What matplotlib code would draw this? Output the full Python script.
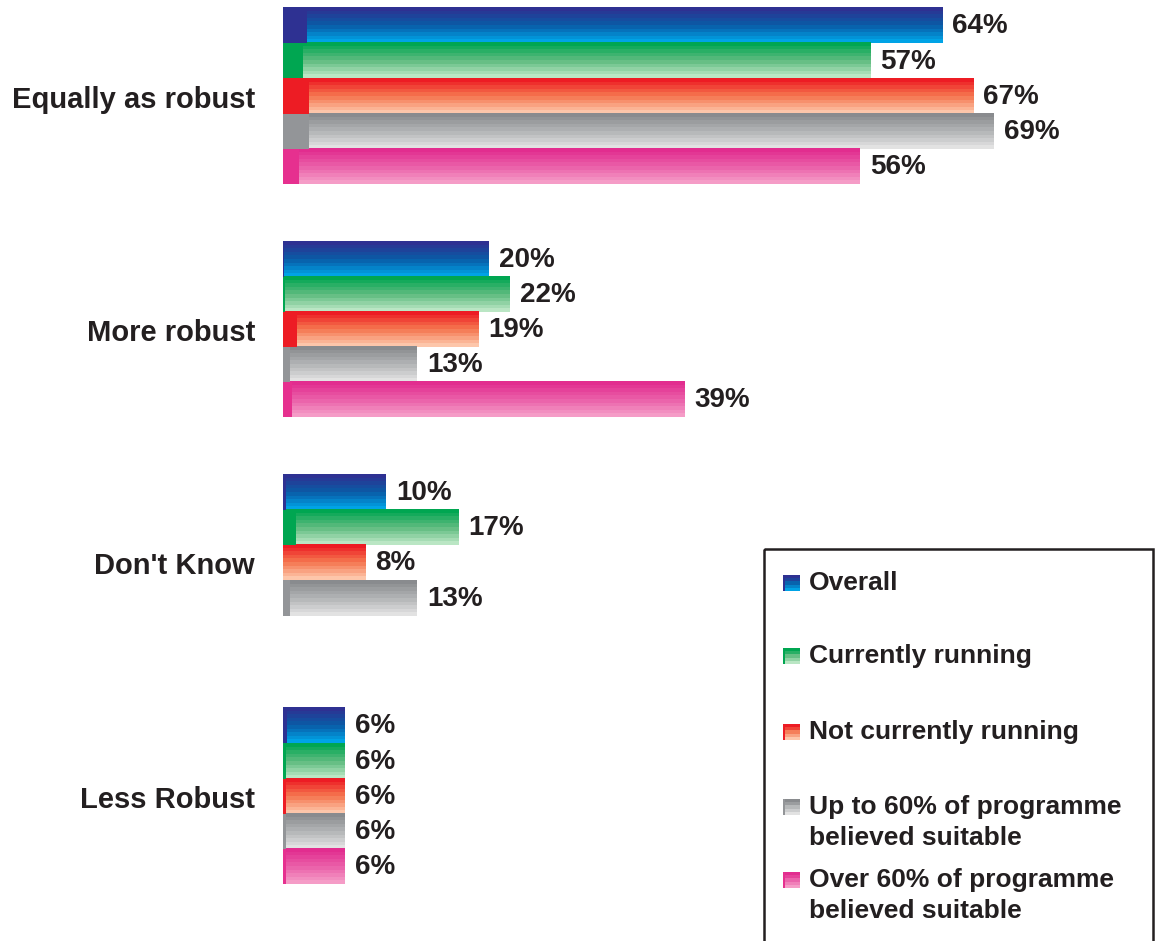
import numpy as np
import matplotlib
matplotlib.use("Agg")
import matplotlib.pyplot as plt
from matplotlib.colors import LinearSegmentedColormap
from matplotlib.patches import Rectangle

plt.rcParams['font.family'] = ['Liberation Sans', 'DejaVu Sans']
plt.rcParams['font.weight'] = 'bold'

# --- Data ---
categories = ["Equally as robust", "More robust", "Don't Know", "Less Robust"]
series = ["Overall", "Currently running", "Not currently running",
          "Up to 60% of programme\nbelieved suitable",
          "Over 60% of programme\nbelieved suitable"]
overall = [64, 20, 10, 6]
current = [57, 22, 17, 6]
not_current = [67, 19, 8, 6]
up_to_60 = [69, 13, 13, 6]
over_60 = [56, 39, None, 6]
values = [overall, current, not_current, up_to_60, over_60]

# --- Styling: gradient top/bottom colours, solid end-cap colour, cap widths ---
grad_top = ['#2e3192', '#00a651', '#ed1c24', '#898b8e', '#e22d8f']
grad_mid = ['#0a5ba6', '#5dbb7e', '#f5764f', '#b2b4b6', '#ea5ea8']
grad_bot = ['#00a3e6', '#bae6c4', '#fdc6aa', '#e2e2e2', '#f59cc7']
cap_col = ['#2e3192', '#00a651', '#ed1c24', '#939598', '#e6308f']
cap_w = [[2.3, 1.9, 2.5, 2.5, 1.6],
         [0.1, 0.2, 1.35, 0.7, 0.85],
         [0.3, 1.25, 0.0, 0.7, 0.0],
         [0.4, 0.3, 0.3, 0.3, 0.3]]
text_col = '#231f20'

cmaps = [LinearSegmentedColormap.from_list(f"g{i}", [grad_top[i], grad_mid[i], grad_bot[i]], N=10)
         for i in range(5)]
grad = np.linspace(0, 1, 10).reshape(-1, 1)

W, H = 1155, 941
fig = plt.figure(figsize=(W / 100, H / 100), dpi=100)
px_per_pct = 10.3
px_per_bar = 35.2
x0, y0 = 283, 8
ax = fig.add_axes([x0 / W, 0, 1 - x0 / W, 1])
ax.set_xlim(0, (W - x0) / px_per_pct)
ax.set_ylim((H - y0) / px_per_bar, -y0 / px_per_bar)
ax.axis('off')

group_pitch = 6.63
for g, cat in enumerate(categories):
    base = g * group_pitch
    for s in range(5):
        v = values[s][g]
        if v is None:
            continue
        top = base + s
        ax.imshow(grad, cmap=cmaps[s], aspect='auto', interpolation='nearest',
                  extent=(0, v, top + 1, top), zorder=2)
        if cap_w[g][s] > 0:
            ax.add_patch(Rectangle((0, top), cap_w[g][s], 1, color=cap_col[s], lw=0, zorder=3))
        ax.text(v + 10 / px_per_pct, top + 0.52, f"{v}%", ha='left', va='center',
                fontsize=20, fontweight='bold', color=text_col)
    ax.text(-28 / px_per_pct, base + 2.6, cat, ha='right', va='center',
            fontsize=21, fontweight='bold', color=text_col, clip_on=False)

# --- Legend box ---
lx0, ly0 = 762, 548
lg = fig.add_axes([lx0 / W, 0, 1 - lx0 / W, (H - ly0) / H])
lg.set_xlim(lx0, W)
lg.set_ylim(H, ly0)
lg.axis('off')
lg.add_patch(Rectangle((763.5, 549.5), 389, 400, fill=False, ec='#231f20', lw=1.8, clip_on=False))
entry_y = [583, 656, 732, 807, 880]
for s, name in enumerate(series):
    y = entry_y[s]
    lg.imshow(grad[::2], cmap=cmaps[s], aspect='auto', interpolation='nearest',
              extent=(783, 800, y + 8, y - 8), zorder=2)
    lg.add_patch(Rectangle((783, y - 8), 1.5, 16, color=cap_col[s], lw=0, zorder=3))
    for i, line in enumerate(name.split("\n")):
        lg.text(809, y + i * 31, line, ha='left', va='center', fontsize=19,
                fontweight='bold', color=text_col)

fig.savefig("out.png", dpi=100)
